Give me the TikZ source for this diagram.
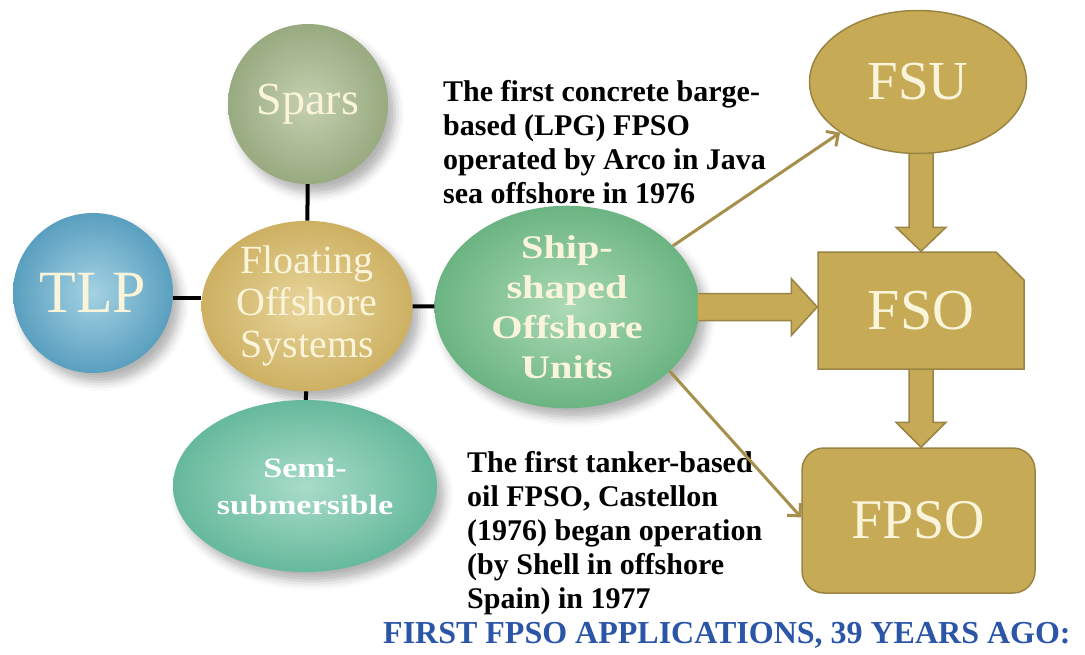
\documentclass[tikz,border=0pt]{standalone}
\usepackage{fontspec}
\setmainfont{Liberation Serif}
\newfontfamily\widefont{Liberation Serif}[FakeStretch=1.22]
\usetikzlibrary{shapes.geometric,shapes.misc,arrows.meta,calc,shadows.blur}

\definecolor{goldfill}{HTML}{C6AA56}
\definecolor{goldline}{HTML}{9A8443}
\definecolor{goldarrow}{HTML}{A68F4A}
\definecolor{cream}{HTML}{FAF4DA}
\definecolor{titleblue}{HTML}{2B55A6}
\definecolor{sparsin}{HTML}{C5D0B0}
\definecolor{sparsout}{HTML}{98AA80}
\definecolor{tlpin}{HTML}{A4D2E3}
\definecolor{tlpout}{HTML}{5A9FBF}
\definecolor{fosin}{HTML}{E8D69C}
\definecolor{fosout}{HTML}{CDB062}
\definecolor{semiin}{HTML}{A8DCC9}
\definecolor{semiout}{HTML}{66B99C}
\definecolor{shipin}{HTML}{ACDAB6}
\definecolor{shipout}{HTML}{6BB482}

\pgfdeclarelayer{background}
\pgfsetlayers{background,main}

\tikzset{
  sphere/.style={inner sep=0pt, text=cream,
    blur shadow={shadow xshift=7pt, shadow yshift=-9pt,
                 shadow blur radius=9pt, shadow opacity=30}},
  roundball/.style={sphere, circle, minimum size=#1},
  oval/.style={sphere, ellipse},
  link/.style={line width=4pt, black},
  goldshape/.style={fill=goldfill, draw=goldline, line width=1.5pt,
    text=cream, inner sep=0pt},
  blockarrow/.style={fill=goldfill, draw=goldline, line width=1.5pt,
    line join=miter},
  thinarrow/.style={draw=goldarrow, line width=3pt,
    -{Straight Barb[length=9pt,width=18pt,line width=3pt]}},
  note/.style={inner sep=0pt, align=left, font=\bfseries\fontsize{30}{34}\selectfont},
}

\begin{document}
\begin{tikzpicture}[x=1pt,y=-1pt]
\useasboundingbox (0,0) rectangle (1085,654);

% left cluster of floating systems
\node[roundball=160pt, shade, inner color=sparsin, outer color=sparsout,
      font=\fontsize{46}{48}\selectfont]
  (spars) at (308,104) {Spars};
\node[roundball=160pt, shade, inner color=tlpin, outer color=tlpout,
      font=\fontsize{60}{62}\selectfont]
  (tlp) at (93,293) {TLP};
\node[oval, minimum width=211pt, minimum height=158pt, shade,
      inner color=fosin, outer color=fosout, align=center,
      font=\fontsize{40}{42}\selectfont]
  (fos) at (307,306) {Floating\\Offshore\\Systems};
\node[oval, minimum width=264pt, minimum height=172pt, shade,
      inner color=semiin, outer color=semiout, align=center, text=white,
      font=\widefont\bfseries\fontsize{28}{37}\selectfont]
  (semi) at (305,486) {Semi-\\submersible};
\node[oval, minimum width=265pt, minimum height=169pt, shade,
      inner color=shipin, outer color=shipout, align=center,
      font=\widefont\bfseries\fontsize{33}{40}\selectfont]
  (ship) at (567,307) {Ship-\\shaped\\Offshore\\Units};

% black links to the central node
\draw[link] (spars) -- (fos);
\draw[link] (fos) -- (semi);
\draw[link] (fos) -- (ship);
\draw[link] ([yshift=-5pt]tlp.east) -- ([yshift=-5pt]tlp.east -| fos.west);

% storage and production units
\node[goldshape, ellipse, minimum width=217pt, minimum height=143pt,
      font=\fontsize{55}{57}\selectfont]
  (fsu) at (918,82) {FSU};
\node[goldshape, chamfered rectangle, chamfered rectangle corners=north east,
      chamfered rectangle xsep=14pt, chamfered rectangle ysep=14pt,
      minimum width=206pt, minimum height=117pt,
      font=\fontsize{58}{60}\selectfont]
  (fso) at (921,310.5) {FSO};
\node[goldshape, rectangle, rounded corners=22pt,
      minimum width=233pt, minimum height=145pt,
      font=\fontsize{56}{58}\selectfont]
  (fpso) at (918.5,520.5) {FPSO};

% vertical block arrows, kept behind the gold shapes
\begin{pgfonlayer}{background}
\draw[blockarrow]
  ($(fso.north |- fsu.south)+(-12,-6)$) -- ($(fso.north)+(-12,-24)$)
  -- ($(fso.north)+(-25,-24)$) -- (fso.north) -- ($(fso.north)+(25,-24)$)
  -- ($(fso.north)+(12,-24)$) -- ($(fso.north |- fsu.south)+(12,-6)$) -- cycle;
\draw[blockarrow]
  ($(fso.south)+(-12,-2)$) -- ($(fso.south |- fpso.north)+(-12,-25)$)
  -- ($(fso.south |- fpso.north)+(-25,-25)$) -- (fso.south |- fpso.north)
  -- ($(fso.south |- fpso.north)+(25,-25)$) -- ($(fso.south |- fpso.north)+(12,-25)$)
  -- ($(fso.south)+(12,-2)$) -- cycle;
\end{pgfonlayer}

% horizontal block arrow, laid over the ship's shadow
\fill[goldfill]
  ($(ship.east)+(-2,-13.5)$) -- ($(fso.west |- ship.east)+(-26,-13.5)$)
  -- ($(fso.west |- ship.east)+(-26,-28.5)$) -- (fso.west |- ship.east)
  -- ($(fso.west |- ship.east)+(-26,28.5)$) -- ($(fso.west |- ship.east)+(-26,13.5)$)
  -- ($(ship.east)+(-2,13.5)$) -- cycle;
\draw[draw=goldline, line width=1.5pt, line join=miter]
  ($(ship.east)+(-1,-13.5)$) -- ($(fso.west |- ship.east)+(-26,-13.5)$)
  -- ($(fso.west |- ship.east)+(-26,-28.5)$) -- (fso.west |- ship.east)
  -- ($(fso.west |- ship.east)+(-26,28.5)$) -- ($(fso.west |- ship.east)+(-26,13.5)$)
  -- ($(ship.east)+(-1,13.5)$);

% historical notes
\node[note, anchor=north west] (noteup) at (443,80)
  {The first concrete barge-\\based (LPG) FPSO\\operated by Arco in Java\\sea offshore in 1976};
\node[note, anchor=north west] (notedown) at (467,451)
  {The first tanker-based\\oil FPSO, Castellon\\(1976) began operation\\(by Shell in offshore\\Spain) in 1977};

% thin arrows from the ship-shaped units
\draw[thinarrow] (ship.30) -- (fsu.213);
\draw[thinarrow] (ship.-32) -- ([yshift=3pt]fpso.west);

% heading
\node[anchor=base west, inner sep=0pt, text=titleblue,
      font=\bfseries\fontsize{32}{34}\selectfont]
  (heading) at (383,643) {FIRST FPSO APPLICATIONS, 39 YEARS AGO:};
\end{tikzpicture}
\end{document}
